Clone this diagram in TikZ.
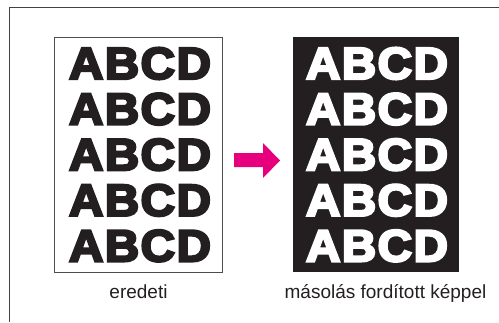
\documentclass[tikz,border=0pt]{standalone}
\usepackage{fontspec}
\setmainfont{Liberation Sans}
\newfontfamily\heavy[FakeBold=5,LetterSpace=3]{Liberation Sans Bold}
\definecolor{ink}{HTML}{231F20}
\definecolor{mag}{HTML}{E6007E}
\tikzset{
  frame/.style={draw=ink!85, line width=0.9pt},
  page/.style={draw=ink!80, line width=0.7pt, fill=white},
  darkpage/.style={fill=ink, draw=none},
  row/.style={inner sep=0pt, font=\heavy\fontsize{45}{45}\selectfont},
  caption/.style={inner sep=0pt, anchor=base, font=\fontsize{19}{19}\selectfont, text=ink},
  arrowshape/.style={fill=mag, draw=none}
}
\newcommand{\abcd}{\scalebox{1.06}[1]{ABCD}}
\begin{document}
\begin{tikzpicture}[x=1pt,y=-1pt]
\useasboundingbox (0,0) rectangle (499,322);
% frame (only top and left visible)
\draw[frame] (9,322) -- (9,7.3) -- (499,7.3);
% original page
\draw[page] (54.5,37) rectangle (222.5,272.5);
% inverted page
\fill[darkpage] (293,37) rectangle (459,272);
% rows
\foreach \i in {0,...,4}{
  \node[row, text=ink, anchor=center] (l\i) at (140,63.5+45.6*\i) {\abcd};
  \node[row, text=white, anchor=center] (r\i) at (377,63.5+45.6*\i) {\abcd};
}
% arrow
\fill[arrowshape] (234,153) -- (263,153) -- (263,143) -- (280,160.5) -- (263,178) -- (263,167) -- (234,167) -- cycle;
% captions
\node[caption] (c1) at (138.5,298) {eredeti};
\node[caption] (c2) at (385.5,298) {másolás fordított képpel};
\end{tikzpicture}
\end{document}
